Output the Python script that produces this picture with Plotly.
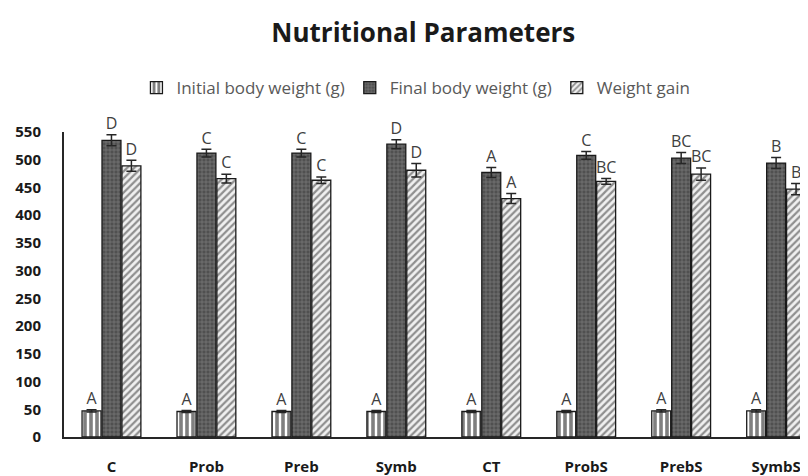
import plotly.graph_objects as go
import numpy as np

categories = ["C", "Prob", "Preb", "Symb", "CT", "ProbS", "PrebS", "SymbS"]
initial_bw = [47, 46, 46, 46, 46, 46, 47, 47]
initial_err = [2, 2, 2, 2, 2, 2, 2, 2]
initial_letters = ["A"] * 8
final_bw = [535, 512, 512, 528, 477, 508, 503, 494]
final_err = [10, 7, 7, 8, 9, 7, 10, 10]
final_letters = ["D", "C", "C", "D", "A", "C", "BC", "B"]
gain = [489, 466, 463, 481, 430, 461, 474, 447]
gain_err = [10, 8, 6, 12, 9, 5, 11, 10]
gain_letters = ["D", "C", "C", "D", "A", "BC", "BC", "B"]

series_names = ["Initial body weight (g)", "Final body weight (g)", "Weight gain"]

FONT = "Open Sans"
xpos = np.arange(len(categories))
slot = 0.21
offsets = [-slot, 0.0, slot]

fig = go.Figure()

styles = [
    dict(shape="|", fgcolor="#000000", bgcolor="white", size=6, solidity=0.6),
    dict(shape="+", fgcolor="#c0c0c0", bgcolor="#505050", size=4, solidity=0.25),
    dict(shape="/", fgcolor="#2e2e2e", bgcolor="#f0f0f0", size=5, solidity=0.45),
]
vals = [initial_bw, final_bw, gain]
errs = [initial_err, final_err, gain_err]
letters = [initial_letters, final_letters, gain_letters]

for k in range(3):
    fig.add_trace(go.Bar(
        x=xpos, y=vals[k], name=series_names[k],
        marker=dict(color=styles[k]["bgcolor"], pattern=styles[k],
                    line=dict(color="#1a1a1a", width=1.3)),
        error_y=dict(type="data", array=errs[k], color="#262626", thickness=1.5, width=5),
    ))

for k in range(3):
    fig.add_trace(go.Scatter(
        x=xpos + offsets[k], y=np.array(vals[k]) + np.array(errs[k]) + 3,
        mode="text", text=letters[k], textposition="top center",
        textfont=dict(family=FONT, size=16, color="#404040"),
        showlegend=False, hoverinfo="skip", cliponaxis=False,
    ))

fig.update_layout(
    width=808, height=476,
    paper_bgcolor="white", plot_bgcolor="white",
    margin=dict(l=56, r=0, t=124, b=47),
    barmode="group", bargap=0.37, bargroupgap=0.05,
    title=dict(text="<b>Nutritional Parameters</b>", x=0.514, xanchor="center",
               y=0.947, yanchor="middle",
               font=dict(family=FONT, size=26, color="#1a1a1a")),
    legend=dict(orientation="h", x=0.468, xanchor="center", y=1.144, yanchor="middle",
                font=dict(family=FONT, size=17, color="#595959"),
                itemwidth=30, tracegroupgap=0),
    font=dict(family=FONT),
)
fig.update_xaxes(
    range=[-0.5, 7.42], tickvals=list(xpos), ticktext=[f"<b>{c}</b>" for c in categories],
    showline=True, linecolor="#262626", linewidth=2, showgrid=False, zeroline=False,
    ticks="outside", ticklen=15, tickcolor="rgba(0,0,0,0)", automargin=False,
    tickfont=dict(family=FONT, size=15, color="#1a1a1a"),
)
fig.update_yaxes(
    range=[0, 550], tickvals=list(range(0, 551, 50)),
    showline=True, linecolor="#262626", linewidth=2, showgrid=False, zeroline=False,
    ticks="outside", ticklen=18, tickcolor="rgba(0,0,0,0)", automargin=False,
    tickfont=dict(family=FONT, size=15, color="#1a1a1a"),
    ticktext=[f"<b>{v}</b>" for v in range(0, 551, 50)],
)

fig.write_html("out.html")
